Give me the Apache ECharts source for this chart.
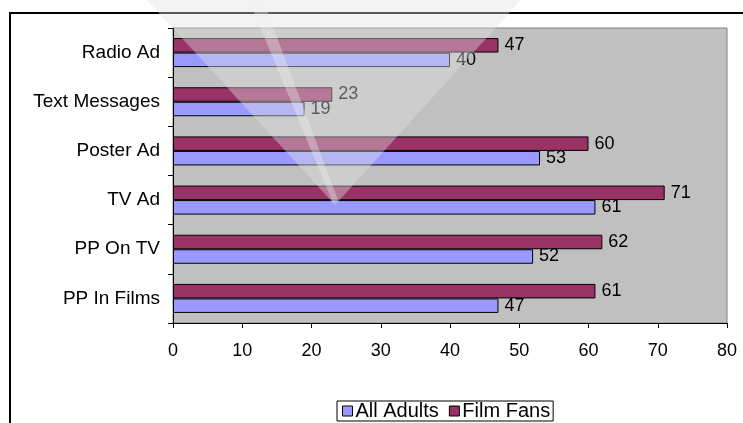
<!DOCTYPE html>
<html>
<head>
<meta charset="utf-8">
<style>
html,body{margin:0;padding:0;background:#fff;}
#chart{width:743px;height:423px;}
</style>
<script src="https://cdn.jsdelivr.net/npm/echarts@6/dist/echarts.min.js"></script>
</head>
<body>
<div id="chart"></div>
<script>
const categories = ['PP In Films', 'PP On TV', 'TV Ad', 'Poster Ad', 'Text Messages', 'Radio Ad'];
const allAdults = [47, 52, 61, 53, 19, 40];
const filmFans = [61, 62, 71, 60, 23, 47];
const xTicks = [0, 10, 20, 30, 40, 50, 60, 70, 80];

const FONT = "'Liberation Sans', Arial, sans-serif";
const chart = echarts.init(document.getElementById('chart'), null, {renderer: 'canvas'});

const labelStyle = {
  show: true,
  position: 'right',
  distance: 6,
  color: '#000',
  fontSize: 18,
  fontFamily: FONT
};

chart.setOption({
  animation: false,
  backgroundColor: '#fff',
  grid: {
    left: 173, right: 16, top: 28, bottom: 100,
    show: true,
    backgroundColor: '#c0c0c0',
    borderColor: '#808080',
    borderWidth: 1
  },
  xAxis: {
    type: 'value',
    min: xTicks[0],
    max: xTicks[xTicks.length - 1],
    interval: 10,
    axisLine: {show: true, lineStyle: {color: '#000', width: 1}},
    axisTick: {show: true, length: 5, lineStyle: {color: '#000'}},
    splitLine: {show: false},
    axisLabel: {color: '#000', fontSize: 18, fontFamily: FONT, margin: 19}
  },
  yAxis: {
    type: 'category',
    data: categories,
    axisLine: {show: true, lineStyle: {color: '#000', width: 1}},
    axisTick: {show: true, length: 5, lineStyle: {color: '#000'}},
    axisLabel: {color: '#000', fontSize: 19, fontFamily: FONT, margin: 13}
  },
  legend: {
    data: ['All Adults', 'Film Fans'],
    left: 337,
    top: 401,
    orient: 'horizontal',
    padding: [0, 3, 0, 5],
    itemGap: 10,
    itemWidth: 10,
    itemHeight: 10,
    icon: 'rect',
    borderColor: '#000',
    borderWidth: 1,
    backgroundColor: '#fff',
    textStyle: {color: '#000', fontSize: 20, fontFamily: FONT, lineHeight: 19, padding: [0, 0, 0, -2]},
    itemStyle: {borderColor: '#000', borderWidth: 1}
  },
  series: [
    {
      name: 'Film Fans',
      type: 'bar',
      data: filmFans,
      barWidth: 14.5,
      barGap: '0%',
      itemStyle: {color: '#993366', borderColor: '#000', borderWidth: 1},
      label: labelStyle
    },
    {
      name: 'All Adults',
      type: 'bar',
      data: allAdults,
      barWidth: 14.5,
      barGap: '0%',
      itemStyle: {color: '#9999ff', borderColor: '#000', borderWidth: 1},
      label: labelStyle
    }
  ],
  graphic: [
    {
      type: 'rect',
      silent: true,
      z: 0,
      shape: {x: 10, y: 13, width: 780, height: 460},
      style: {fill: 'none', stroke: '#000', lineWidth: 2}
    },
    {
      type: 'polygon',
      silent: true,
      z: 100,
      shape: {points: [[147, 0], [521, 0], [335, 205]]},
      style: {fill: 'rgba(224,224,224,0.4)'}
    },
    {
      type: 'polygon',
      silent: true,
      z: 101,
      shape: {points: [[249, 0], [263, 0], [338, 200], [333, 203]]},
      style: {fill: 'rgba(240,240,240,0.35)'}
    }
  ]
});
</script>
</body>
</html>
